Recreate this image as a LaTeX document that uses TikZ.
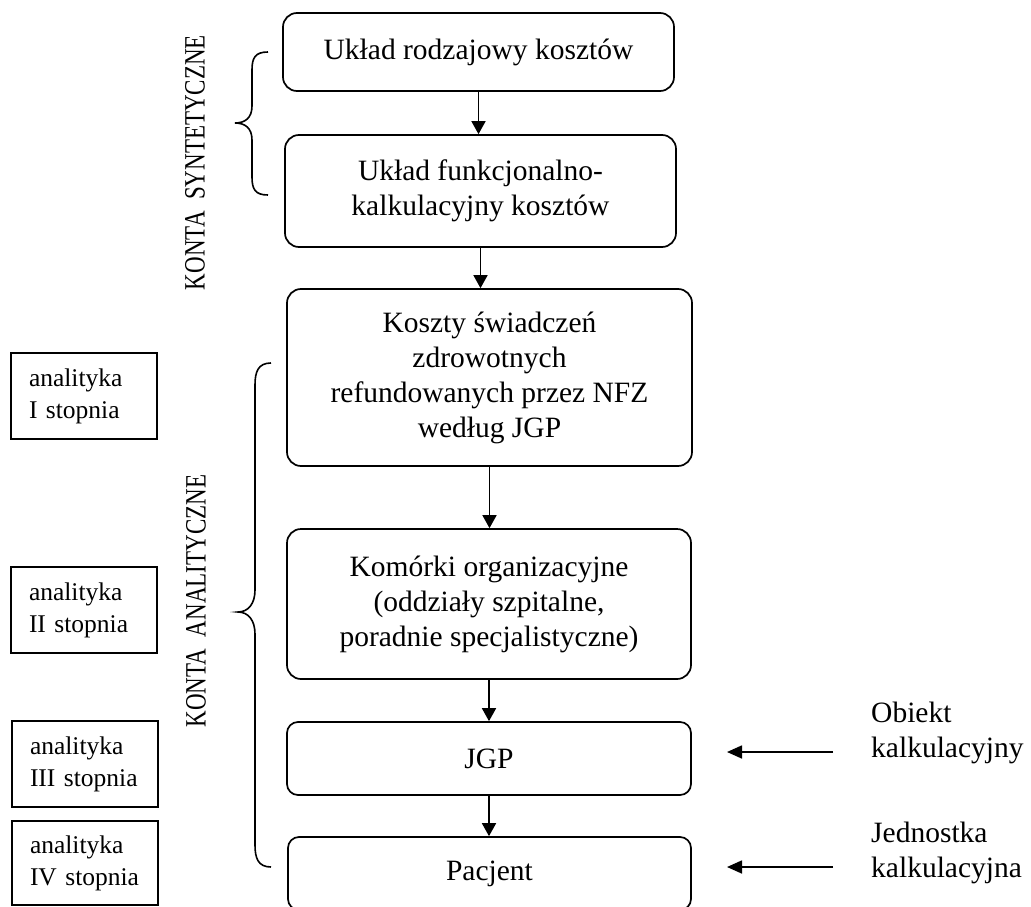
\documentclass[tikz,border=0pt]{standalone}
\usepackage{fontspec}
\setmainfont{Liberation Serif}
\usetikzlibrary{arrows.meta}
\begin{document}
\begin{tikzpicture}[x=1pt,y=-1pt,
  flow/.style={draw, line width=1.7pt, rounded corners=14pt, align=center,
    inner sep=0pt, font=\fontsize{29.5}{35}\selectfont},
  lvl/.style={draw, line width=1.7pt, align=left, inner xsep=18pt, inner ysep=0pt,
    text width=110pt, minimum height=86pt, font=\fontsize{25.5}{32}\selectfont},
  side/.style={align=left, inner sep=0pt, anchor=west, font=\fontsize{29.5}{35}\selectfont},
  vlabel/.style={rotate=90, inner sep=0pt, font=\fontsize{29.5}{35}\selectfont},
  arr/.style={-{Triangle[length=13pt,width=14pt]}, line width=1.7pt},
  harr/.style={-{Triangle[length=15pt,width=13pt]}, line width=1.7pt},
  brace/.style={line width=1.6pt}]
\useasboundingbox (0,0) rectangle (1031,907);
\clip (0,0) rectangle (1031,907);

% main chain of cost accounts
\node[flow, minimum width=391pt, minimum height=78pt] (b1) at (478.5,52) {Układ rodzajowy kosztów};
\node[flow, minimum width=391pt, minimum height=112pt] (b2) at (480.5,191) {Układ funkcjonalno-\\kalkulacyjny kosztów};
\node[flow, minimum width=405pt, minimum height=177pt] (b3) at (489.5,377.5) {Koszty świadczeń\\zdrowotnych\\refundowanych przez NFZ\\według JGP};
\node[flow, minimum width=404pt, minimum height=150pt] (b4) at (489,604) {Komórki organizacyjne\\(oddziały szpitalne,\\poradnie specjalistyczne)};
\node[flow, minimum width=404pt, minimum height=73pt, rounded corners=11pt] (b5) at (489,758.5) {JGP};
\node[flow, minimum width=403pt, minimum height=73pt, rounded corners=11pt] (b6) at (489.5,873.5) {Pacjent};

\draw[arr] (b1.south) -- (b1.south |- b2.north);
\draw[arr] (b2.south) -- (b2.south |- b3.north);
\draw[arr] (b3.south) -- (b3.south |- b4.north);
\draw[arr] (b4.south) -- (b4.south |- b5.north);
\draw[arr] (b5.south) -- (b5.south |- b6.north);

% levels of analytics
\node[lvl] (l1) at (84,396) {analityka\\I stopnia};
\node[lvl] (l2) at (84,610) {analityka\\II stopnia};
\node[lvl] (l3) at (85,764) {analityka\\III stopnia};
\node[lvl, minimum height=84pt] (l4) at (85,863) {analityka\\IV stopnia};

% group labels
\node[vlabel] (syn) at (195,162.5) {\scalebox{0.78}[1]{KONTA\hspace{0.5em}SYNTETYCZNE}};
\node[vlabel] (ana) at (196,601) {\scalebox{0.78}[1]{KONTA\hspace{0.5em}ANALITYCZNE}};

% braces
\draw[brace] (268,52) .. controls (255,52) and (252,58) .. (252,70) -- (252,106)
  .. controls (252,118) and (245,123) .. (235,123)
  .. controls (245,123) and (252,128) .. (252,140) -- (252,177)
  .. controls (252,189) and (255,195) .. (268,195);
\draw[brace] (271,363) .. controls (258,363) and (255,372) .. (255,385) -- (255,590)
  .. controls (255,604) and (248,612) .. (238,612)
  .. controls (248,612) and (255,620) .. (255,634) -- (255,845)
  .. controls (255,858) and (258,867) .. (271,867);

% calculation object and unit
\node[side] (obj) at (871,733) {Obiekt\\kalkulacyjny};
\node[side] (unit) at (871,853) {Jednostka\\kalkulacyjna};
\coordinate (o1) at (833,752);
\coordinate (o2) at (727,752);
\coordinate (u1) at (833,867);
\coordinate (u2) at (727,867);
\draw[harr] (o1) -- (o2);
\draw[harr] (u1) -- (u2);
\end{tikzpicture}
\end{document}
